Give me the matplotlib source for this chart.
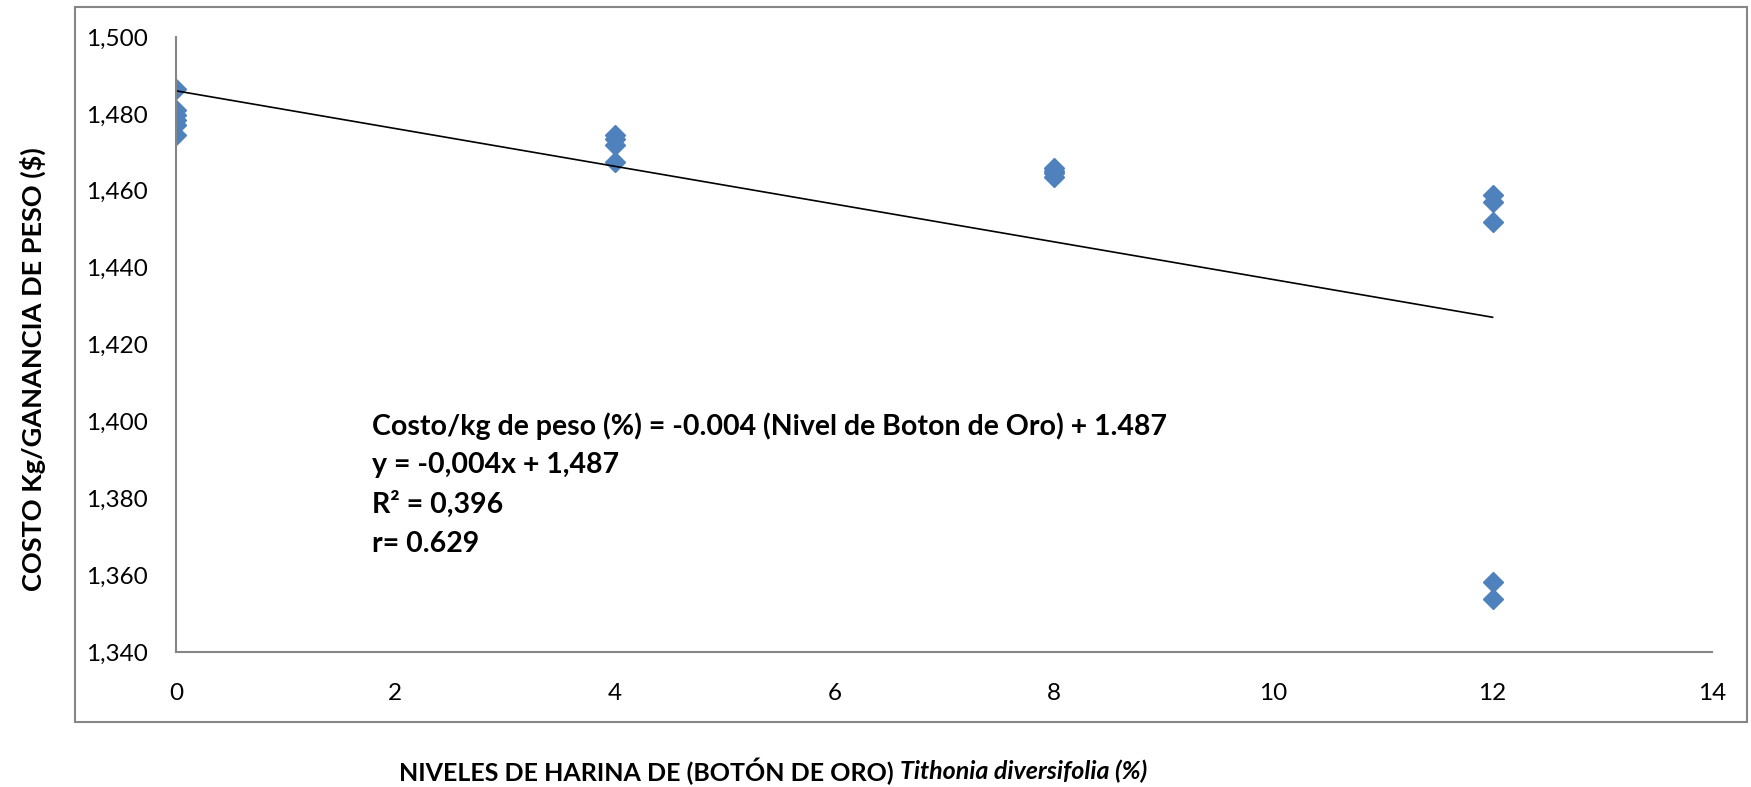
import numpy as np
import matplotlib
matplotlib.use('Agg')
import matplotlib.pyplot as plt
from matplotlib.patches import Rectangle
from matplotlib.transforms import offset_copy

# niveles de harina de boton de oro (%) y costo por kg de ganancia
niveles = [0, 0, 0, 0, 0, 0,
           4, 4, 4, 4,
           8, 8, 8, 8,
           12, 12, 12, 12, 12]
costo = [1.4865, 1.4810, 1.4797, 1.4784, 1.4771, 1.4745,
         1.4745, 1.4735, 1.4720, 1.4675,
         1.4660, 1.4652, 1.4645, 1.4635,
         1.4589, 1.4571, 1.4519, 1.3582, 1.3538]

y_ticks = [1.34, 1.36, 1.38, 1.40, 1.42, 1.44, 1.46, 1.48, 1.50]
x_ticks = [0, 2, 4, 6, 8, 10, 12, 14]

eq_lines = ['Costo/kg de peso (%) = -0.004 (Nivel de Boton de Oro) + 1.487',
            'y = -0,004x + 1,487',
            'R² = 0,396',
            'r= 0.629']

plt.rcParams['font.family'] = ['Lato', 'DejaVu Sans']

fig = plt.figure(figsize=(17.51, 7.87), dpi=100)
ax = fig.add_axes([0.1005, 0.1715, 0.8772, 0.7815])

# outer chart frame
frame = Rectangle((0.0428, 0.0826), 0.955, 0.908, transform=fig.transFigure,
                  fill=False, edgecolor='#868686', linewidth=1.5)
fig.patches.append(frame)

blue = '#4F81BD'
ax.plot(niveles, costo, linestyle='none', marker='D', markersize=10,
        color=blue, markeredgecolor=blue)

# linear trend line over the data range
slope, intercept = np.polyfit(niveles, costo, 1)
xs = np.array([min(niveles), max(niveles)])
ax.plot(xs, slope * xs + intercept, color='black', linewidth=1.2)

ax.set_xlim(0, 14)
ax.set_ylim(1.34, 1.50)
ax.set_xticks(x_ticks)
ax.set_xticklabels([str(t) for t in x_ticks])
ax.set_yticks(y_ticks)
ax.set_yticklabels([f'{t:.3f}'.replace('.', ',') for t in y_ticks])
ax.tick_params(axis='both', length=0, labelsize=17.5)
ax.tick_params(axis='y', pad=20)
ax.tick_params(axis='x', pad=22)

for side in ['top', 'right']:
    ax.spines[side].set_visible(False)
for side in ['left', 'bottom']:
    ax.spines[side].set_color('#868686')
    ax.spines[side].set_linewidth(1.5)

# equation block
y0 = 0.459
for i, line in enumerate(eq_lines):
    fig.text(372 / 1751, y0 - i * 0.05, line, fontsize=20.5, fontweight='bold',
             ha='left', va='center')

fig.text(33 / 1751, 0.531, 'COSTO Kg/GANANCIA DE PESO ($)', rotation=90,
         fontsize=19.5, fontweight='bold', ha='center', va='center')

# x label: upright part then italic species name
xl1 = fig.text(399 / 1751, 1 - 771 / 787, 'NIVELES DE HARINA DE (BOTÓN DE ORO) ',
               fontsize=18, fontweight='bold', ha='left', va='center')
renderer = fig.canvas.get_renderer()
w = xl1.get_window_extent(renderer).width
fig.text(399 / 1751, 1 - 771 / 787, 'Tithonia diversifolia (%)',
         fontsize=18, fontweight='bold', style='italic', ha='left', va='center',
         transform=offset_copy(fig.transFigure, fig=fig, x=w, y=0, units='dots'))

fig.savefig('out.png', dpi=100)
